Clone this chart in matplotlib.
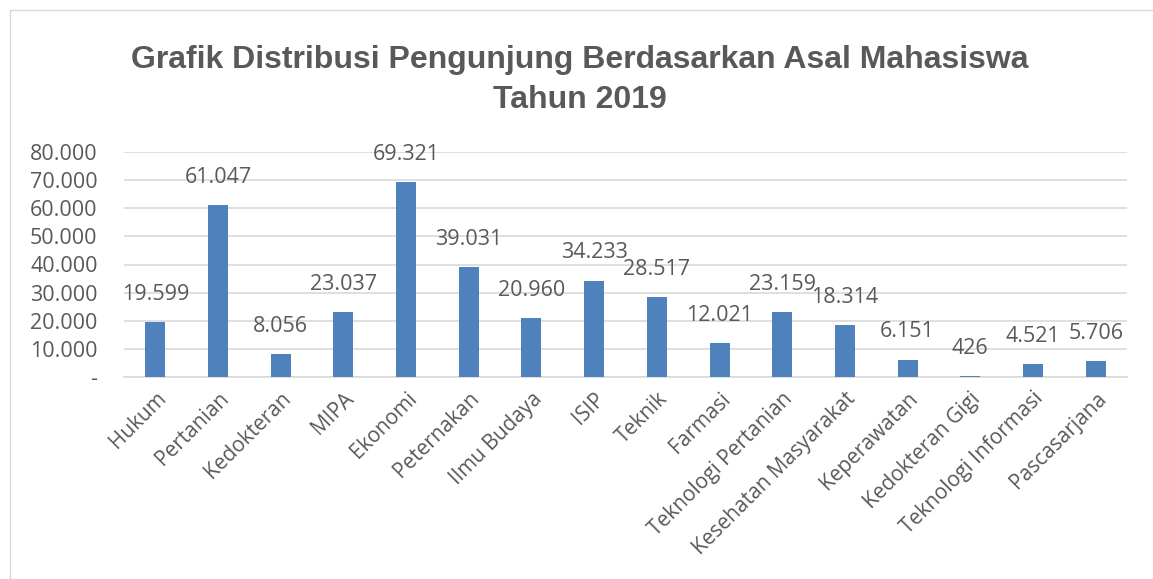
import matplotlib.pyplot as plt
from matplotlib.patches import Rectangle

categories = ["Hukum", "Pertanian", "Kedokteran", "MIPA", "Ekonomi", "Peternakan",
              "Ilmu Budaya", "ISIP", "Teknik", "Farmasi", "Teknologi Pertanian",
              "Kesehatan Masyarakat", "Keperawatan", "Kedokteran Gigi",
              "Teknologi Informasi", "Pascasarjana"]
visitors = [19599, 61047, 8056, 23037, 69321, 39031, 20960, 34233, 28517, 12021,
            23159, 18314, 6151, 426, 4521, 5706]
y_ticks = [0, 10000, 20000, 30000, 40000, 50000, 60000, 70000, 80000]

plt.rcParams['font.family'] = ['Open Sans', 'DejaVu Sans']

text_col = '#595959'
bar_col = '#4F81BD'


def fmt(v):
    return f"{v:,}".replace(",", ".") if v else "-"


fig = plt.figure(figsize=(11.53, 5.79), dpi=100)
# chart area border (only left/top visible in the crop)
fig.patches.append(Rectangle((10 / 1153, -0.1), 1.2, 1 - 10 / 579 + 0.1,
                             transform=fig.transFigure, fill=False,
                             edgecolor='#D9D9D9', linewidth=1))
ax = fig.add_axes([124 / 1153, 1 - 377 / 579, 1003 / 1153, 225 / 579])

x = range(len(categories))
ax.bar(x, visitors, width=0.32, color=bar_col, zorder=3)
for xi, v in zip(x, visitors):
    ax.annotate(fmt(v), (xi, v), xytext=(0, 20), textcoords='offset points',
                ha='center', va='center', fontsize=15.5, color=text_col)

ax.set_xlim(-0.5, len(categories) - 0.5)
ax.set_ylim(0, 80000)
ax.set_yticks(y_ticks)
ax.set_yticklabels([fmt(t) for t in y_ticks], fontsize=15.5, color=text_col)
ax.yaxis.grid(True, color='#D9D9D9', linewidth=1.2, zorder=0)
ax.set_xticks(list(x))
ax.set_xticklabels(categories, rotation=45, ha='right', rotation_mode='anchor',
                   fontsize=15, color=text_col)
ax.tick_params(axis='both', length=0)
ax.tick_params(axis='y', pad=19)
ax.tick_params(axis='x', pad=8)
for s in ['top', 'right', 'left']:
    ax.spines[s].set_visible(False)
ax.spines['bottom'].set_color('#D9D9D9')
ax.spines['bottom'].set_linewidth(1.2)

fig.text(0.503, 1 - 80 / 579, "Grafik Distribusi Pengunjung Berdasarkan Asal Mahasiswa\nTahun 2019",
         ha='center', va='center', fontsize=23, fontweight='bold', color=text_col,
         family='Liberation Sans', linespacing=1.4)

fig.savefig("out.png", dpi=100)
